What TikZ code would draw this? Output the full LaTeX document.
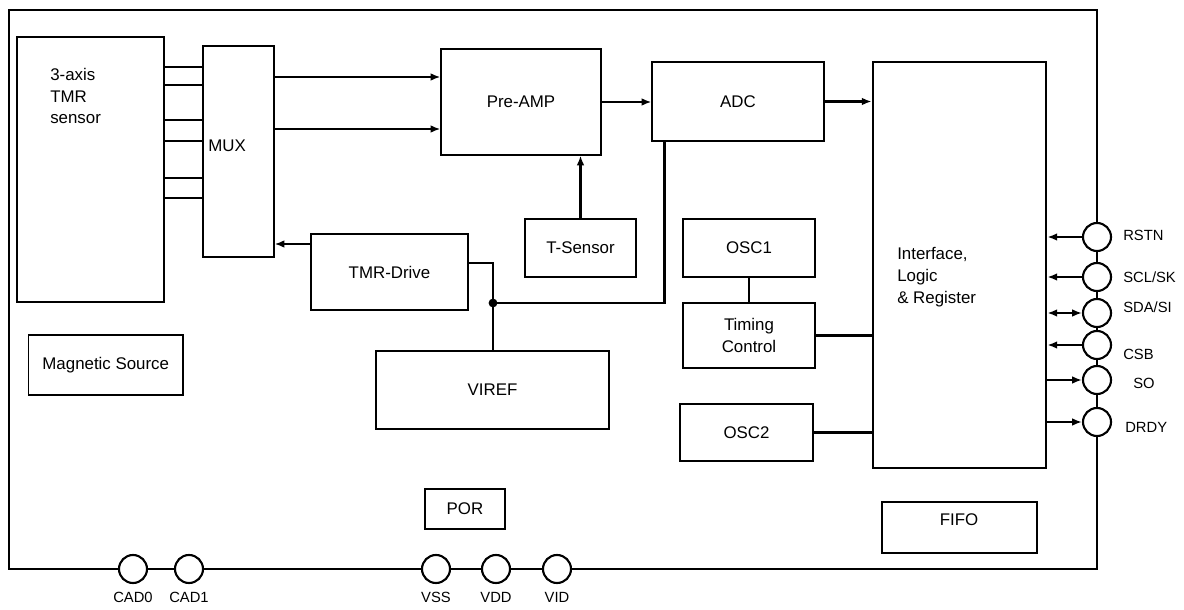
\documentclass[tikz,border=0pt]{standalone}
\usepackage{fontspec}
\setmainfont{Liberation Sans}
\usetikzlibrary{arrows.meta}

\begin{document}
\begin{tikzpicture}[x=0.025cm, y=-0.025cm, >={Latex[length=7pt,width=5.5pt]},
  blk/.style={draw, line width=0.8pt, inner sep=0pt, align=center, font=\fontsize{12}{15}\selectfont},
  bigblk/.style={blk, line width=1.9pt},
  wire/.style={line width=1.6pt},
  pin/.style={circle, draw, line width=1.5pt, fill=white, minimum size=0.7cm, inner sep=0pt},
  pinlbl/.style={inner sep=0pt, font=\fontsize{10.5}{12}\selectfont},
  txt/.style={inner sep=0pt, align=left, font=\fontsize{12}{15.5}\selectfont}]
  \useasboundingbox (0,0) rectangle (1184,610);
  % ------- chip outline -------
  \draw[line width=1.6pt] (9,10) rectangle (1097,569);
  % ------- sensor side -------
  \node[bigblk, minimum width=3.675cm, minimum height=6.625cm] (sensor) at (90.5,169.5) {};
  \node[txt, anchor=west] (sensortxt) at (50,96) {3-axis\\TMR\\sensor};
  \node[blk, minimum width=1.775cm, minimum height=5.275cm] (mux) at (238.5,151.5) {};
  \node[txt, anchor=west] (muxtxt) at (208,146) {MUX};
  \node[blk, minimum width=3.86cm, minimum height=1.5cm] (magsrc) at (105.75,365) {Magnetic Source};
  \foreach \y in {67,85,120,141,178,198}
    \draw[wire] (sensor.east |- 0,\y) -- (mux.west |- 0,\y);
  % ------- signal chain -------
  \node[blk, minimum width=4cm, minimum height=2.65cm] (pre) at (521,102) {Pre-AMP};
  \node[blk, minimum width=4.3cm, minimum height=1.975cm] (adc) at (738,101.5) {ADC};
  \node[blk, minimum width=2.775cm, minimum height=1.45cm] (tsens) at (580.5,248) {T-Sensor};
  \node[blk, minimum width=3.925cm, minimum height=1.9cm] (drive) at (389.5,272) {TMR-Drive};
  \node[blk, minimum width=5.825cm, minimum height=1.95cm] (viref) at (492.5,390) {VIREF};
  \node[blk, minimum width=2cm, minimum height=1cm] (por) at (465,509) {POR};
  \foreach \y in {77,129}
    \draw[wire,->] (mux.east |- 0,\y) -- (pre.west |- 0,\y);
  \draw[wire,->] (pre.east) -- (adc.west |- pre.east);
  \draw[wire,->] (tsens.north) -- (pre.south -| tsens.north);
  \draw[wire,->] (drive.west |- 0,244) -- (mux.east |- 0,244);
  \coordinate (jn) at (493,303);
  \draw[wire] (drive.east |- 0,263) -| (jn);
  \draw[wire] (jn) -| ([xshift=0.325cm]adc.south west);
  \draw[wire] (jn) -- (viref.north -| jn);
  \fill (jn) circle (0.11cm);
  % ------- clocks and logic -------
  \node[blk, minimum width=3.3cm, minimum height=1.45cm] (osc1) at (749,248) {OSC1};
  \node[blk, minimum width=3.3cm, minimum height=1.625cm] (timing) at (749,335.5) {Timing\\Control};
  \node[blk, minimum width=3.325cm, minimum height=1.425cm] (osc2) at (746.5,432.5) {OSC2};
  \node[bigblk, minimum width=4.325cm, minimum height=10.15cm] (iface) at (959.5,265) {};
  \node[txt, anchor=west] (ifacetxt) at (897,277) {Interface,\\Logic\\\& Register};
  \node[blk, minimum width=3.875cm, minimum height=1.275cm] (fifo) at (959.5,527.5) {};
  \node[txt] (fifotxt) at (959,520) {FIFO};
  \draw[wire,->] (adc.east) -- (iface.west |- adc.east);
  \draw[wire] (osc1.south) -- (timing.north);
  \draw[wire] (timing.east) -- (iface.west |- timing.east);
  \draw[wire] (osc2.east) -- (iface.west |- osc2.east);
  % ------- pins -------
  \node[pin] (rstn) at (1097,237) {};
  \node[pin] (scl) at (1097,277) {};
  \node[pin] (sda) at (1097,313) {};
  \node[pin] (csb) at (1097,345) {};
  \node[pin] (so) at (1097,380) {};
  \node[pin] (drdy) at (1097,422) {};
  \node[pinlbl, anchor=west] (rstnlbl) at (1123,235) {RSTN};
  \node[pinlbl, anchor=west] (scllbl) at (1123,277) {SCL/SK};
  \node[pinlbl, anchor=west] (sdalbl) at (1123,307) {SDA/SI};
  \node[pinlbl, anchor=west] (csblbl) at (1123,354) {CSB};
  \node[pinlbl, anchor=west] (solbl) at (1133,383) {SO};
  \node[pinlbl, anchor=west] (drdylbl) at (1125,427) {DRDY};
  \draw[wire,->] (rstn.west) -- (iface.east |- rstn.west);
  \draw[wire,->] (scl.west) -- (iface.east |- scl.west);
  \draw[wire,<->] (iface.east |- sda.west) -- (sda.west);
  \draw[wire,->] (csb.west) -- (iface.east |- csb.west);
  \draw[wire,->] (iface.east |- so.west) -- (so.west);
  \draw[wire,->] (iface.east |- drdy.west) -- (drdy.west);
  \foreach \nm/\xx/\lbl in {cad0/133/CAD0, cad1/189/CAD1, vss/436/VSS, vdd/496/VDD, vid/557/VID} {
    \node[pin] (\nm) at (\xx,569) {};
    \node[pinlbl] (\nm-lbl) at (\xx,597) {\lbl};
  }
\end{tikzpicture}
\end{document}
